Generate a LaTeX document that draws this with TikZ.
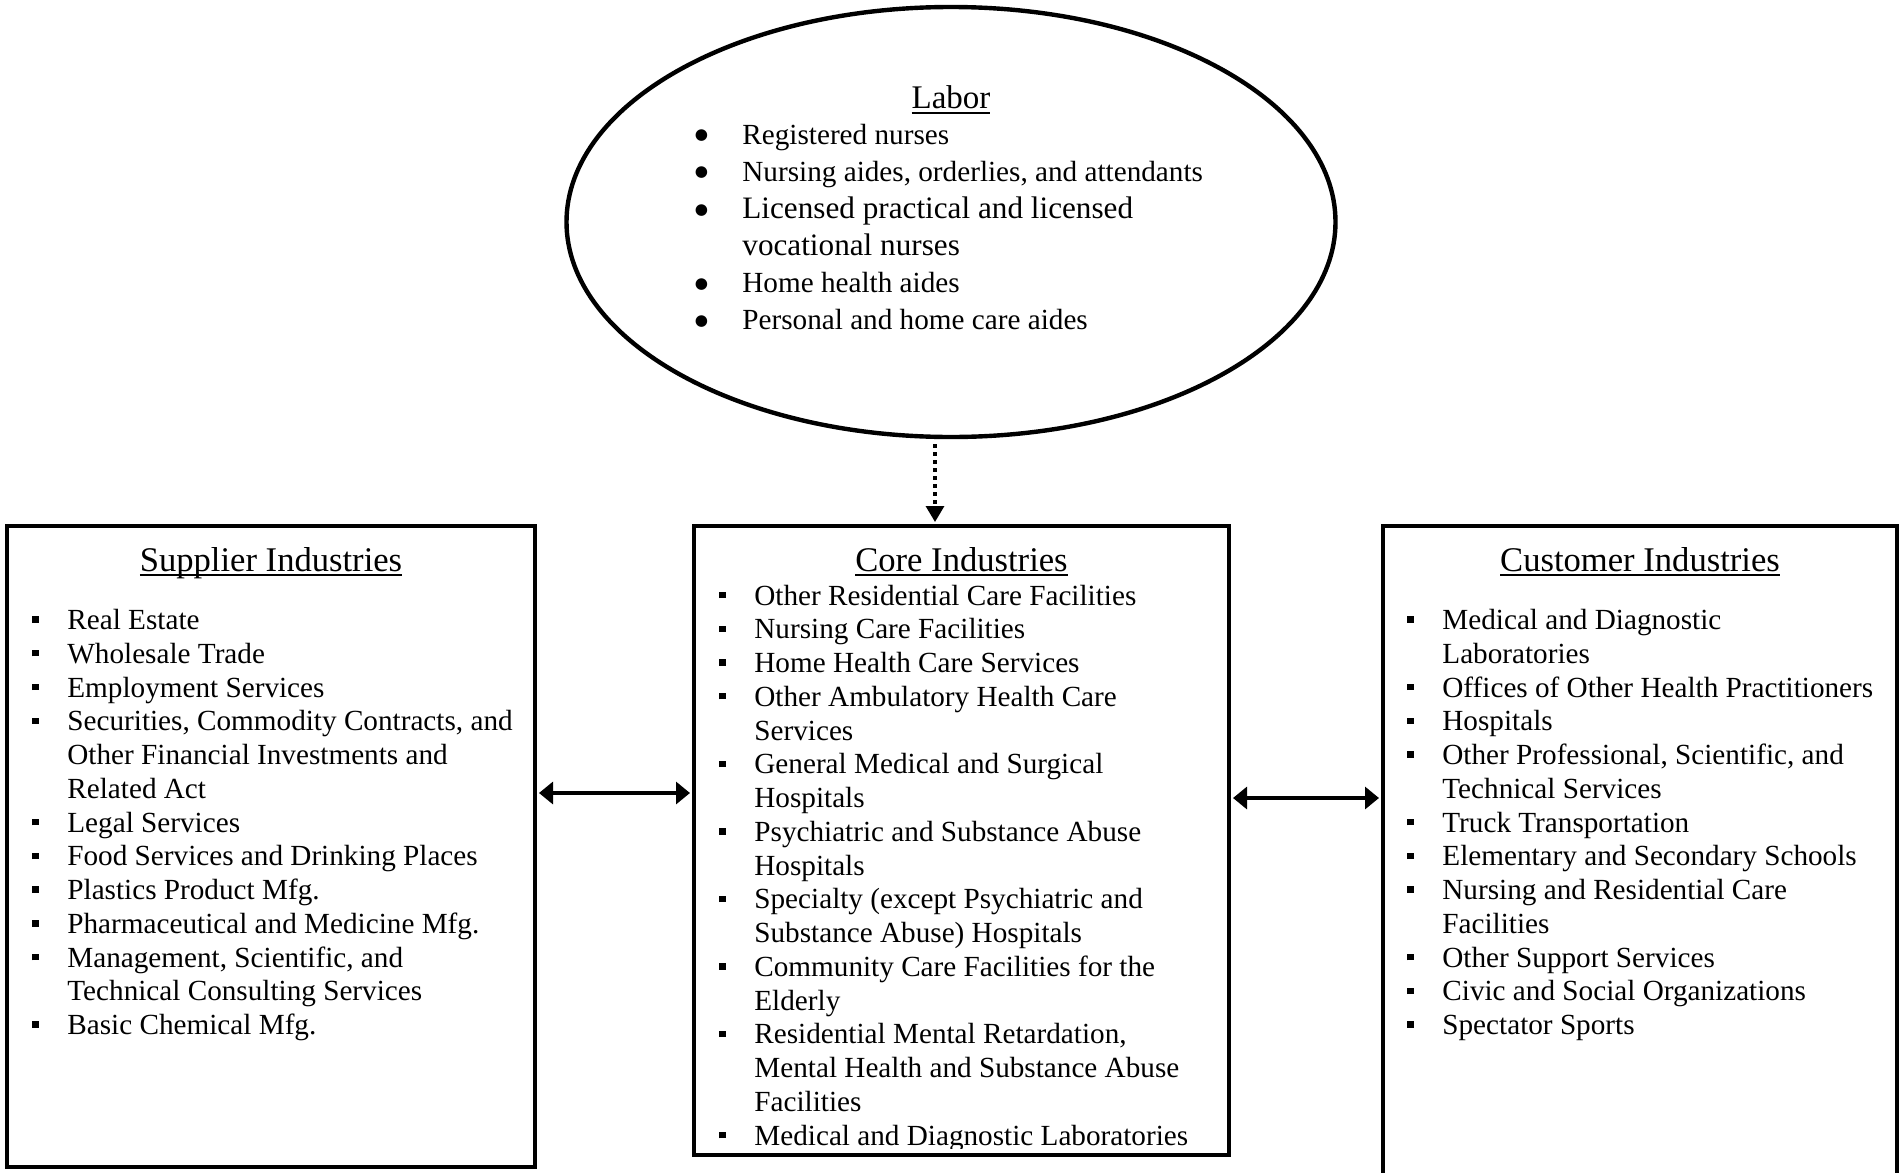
\documentclass[tikz,border=0pt]{standalone}
\usepackage{fontspec}
\setmainfont{Liberation Serif}
\newfontfamily\symfont{DejaVu Sans}
\usetikzlibrary{shapes.geometric,arrows.meta}

% list helpers: a square or round bullet hung to the left of the text
\newcommand\sqmark{\rule[3.4pt]{3.2pt}{3.2pt}}
\newcommand\dotmark{\raisebox{2.1pt}{\symfont\fontsize{7.6}{8}\selectfont ●}}
\newcommand\sqitem[1]{\hbox{\llap{\makebox[0pt]{\sqmark}\hskip16pt}#1}}
\newcommand\dotitem[1]{\hbox{\llap{\makebox[0pt]{\dotmark}\hskip20.5pt}#1}}
\newcommand\moreline[1]{\hbox{#1}}
% underlined heading with a slightly heavier rule
\newcommand\headline[1]{\setbox0\hbox{#1}\rlap{\rule[-2.6pt]{\wd0}{0.9pt}}\box0}

\tikzset{
  frame/.style={draw, line width=2pt, rectangle, inner sep=0pt},
  oval/.style={draw, line width=2.2pt, ellipse, inner sep=0pt},
  heading/.style={anchor=base, inner sep=0pt, font=\fontsize{17.3}{20}\selectfont},
  listtext/.style={anchor=base west, inner sep=0pt, font=\fontsize{14.6}{16.88}\selectfont},
  labortext/.style={anchor=base west, inner sep=0pt, font=\fontsize{14.6}{18.55}\selectfont},
  flow/.style={line width=1.6pt, {Triangle[length=7pt,width=11pt]}-{Triangle[length=7pt,width=11pt]}},
  feed/.style={line width=1.65pt, dash pattern=on 1.65pt off 2.35pt, -{Triangle[length=8pt,width=9pt]}}
}

\begin{document}
\begin{tikzpicture}[x=0.5pt, y=-0.5pt]
  \clip (0,0) rectangle (1902,1173);
  \fill[white] (0,0) rectangle (1902,1173);

  % labor pool
  \node[oval, minimum width=384.5pt, minimum height=215pt] (lab) at (951,222) {};
  \node[heading, font=\fontsize{16.5}{20}\selectfont] (labt) at (951,108.5) {\headline{Labor}};
  \node[labortext] (labl) at (742,144) {\vtop{%
    \dotitem{Registered nurses}
    \dotitem{Nursing aides, orderlies, and attendants}
    \dotitem{\fontsize{15.6}{18.55}\selectfont Licensed practical and licensed}
    \moreline{\fontsize{15.6}{18.55}\selectfont vocational nurses}
    \dotitem{Home health aides}
    \dotitem{Personal and home care aides}}};

  % the three industry groups
  \node[frame, minimum width=264pt, minimum height=320.5pt] (sup) at (271,846.5) {};
  \node[frame, minimum width=267.5pt, minimum height=314.5pt] (core) at (961.5,840.5) {};
  \node[frame, minimum width=257pt, minimum height=347pt] (cust) at (1640,873) {};

  \node[heading] (supt) at (271,571) {\headline{Supplier Industries}};
  \node[heading] (coret) at (961.5,571) {\headline{Core Industries}};
  \node[heading] (custt) at (1640,571) {\headline{Customer Industries}};

  \node[listtext] (supl) at (67,629.5) {\vtop{%
    \sqitem{Real Estate}
    \sqitem{Wholesale Trade}
    \sqitem{Employment Services}
    \sqitem{Securities, Commodity Contracts, and}
    \moreline{Other Financial Investments and}
    \moreline{Related Act}
    \sqitem{Legal Services}
    \sqitem{Food Services and Drinking Places}
    \sqitem{Plastics Product Mfg.}
    \sqitem{Pharmaceutical and Medicine Mfg.}
    \sqitem{Management, Scientific, and}
    \moreline{Technical Consulting Services}
    \sqitem{Basic Chemical Mfg.}}};

  \begin{scope}
    \clip ([shift={(1pt,-1pt)}]core.north west) rectangle ([shift={(-1pt,4.3pt)}]core.south east);
    \node[listtext] (corel) at (754,605) {\vtop{%
      \sqitem{Other Residential Care Facilities}
      \sqitem{Nursing Care Facilities}
      \sqitem{Home Health Care Services}
      \sqitem{Other Ambulatory Health Care}
      \moreline{Services}
      \sqitem{General Medical and Surgical}
      \moreline{Hospitals}
      \sqitem{Psychiatric and Substance Abuse}
      \moreline{Hospitals}
      \sqitem{Specialty (except Psychiatric and}
      \moreline{Substance Abuse) Hospitals}
      \sqitem{Community Care Facilities for the}
      \moreline{Elderly}
      \sqitem{Residential Mental Retardation,}
      \moreline{Mental Health and Substance Abuse}
      \moreline{Facilities}
      \sqitem{Medical and Diagnostic Laboratories}}};
  \end{scope}

  \node[listtext] (custl) at (1442,629.5) {\vtop{%
    \sqitem{Medical and Diagnostic}
    \moreline{Laboratories}
    \sqitem{Offices of Other Health Practitioners}
    \sqitem{Hospitals}
    \sqitem{Other Professional, Scientific, and}
    \moreline{Technical Services}
    \sqitem{Truck Transportation}
    \sqitem{Elementary and Secondary Schools}
    \sqitem{Nursing and Residential Care}
    \moreline{Facilities}
    \sqitem{Other Support Services}
    \sqitem{Civic and Social Organizations}
    \sqitem{Spectator Sports}}};

  % connectors
  \coordinate (lefty) at (0,793);
  \coordinate (righty) at (0,798);
  \draw[flow, shorten <=1pt, shorten >=1pt] (sup.east |- lefty) -- (core.west |- lefty);
  \draw[flow, shorten <=1pt, shorten >=1pt] (core.east |- righty) -- (cust.west |- righty);
  \draw[feed] ([xshift=-8pt,yshift=-2.5pt]lab.south) -- ([xshift=-8pt,yshift=1pt]lab.south |- core.north);
\end{tikzpicture}
\end{document}
